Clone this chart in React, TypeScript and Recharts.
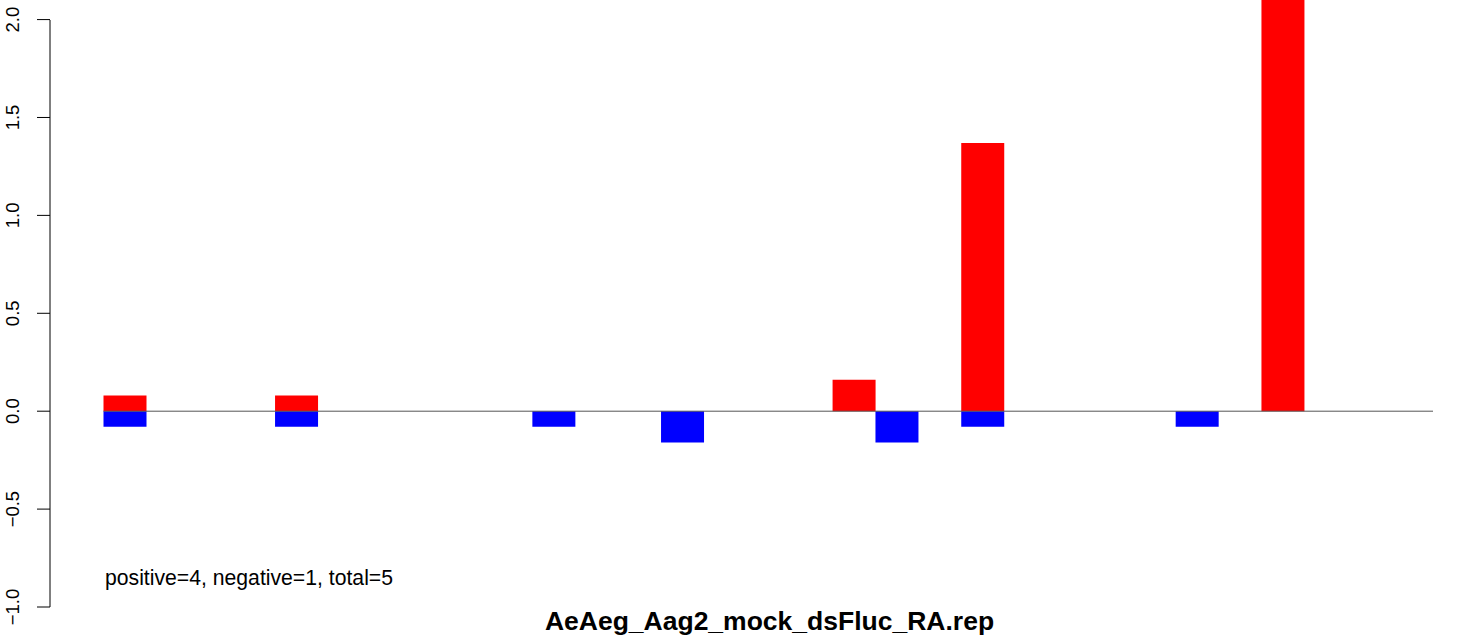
import React from "react";
import { BarChart, Bar, XAxis, YAxis, ReferenceLine } from "recharts";

// 31 positions along the x axis
const categories = [
  "1", "2", "3", "4", "5", "6", "7", "8", "9", "10",
  "11", "12", "13", "14", "15", "16", "17", "18", "19", "20",
  "21", "22", "23", "24", "25", "26", "27", "28", "29", "30",
  "31",
];

const positiveValues = [
  0.08, 0, 0, 0, 0.08, 0, 0, 0, 0, 0,
  0, 0, 0, 0, 0, 0, 0, 0.16, 0, 0,
  1.37, 0, 0, 0, 0, 0, 0, 2.6, 0, 0,
  0,
];

const negativeValues = [
  -0.08, 0, 0, 0, -0.08, 0, 0, 0, 0, 0,
  -0.08, 0, 0, -0.16, 0, 0, 0, 0, -0.16, 0,
  -0.08, 0, 0, 0, 0, -0.08, 0, 0, 0, 0,
  0,
];

const yTicks = [-1, -0.5, 0, 0.5, 1, 1.5, 2];

const chartTitle = "AeAeg_Aag2_mock_dsFluc_RA.rep";
const summaryText = "positive=4, negative=1, total=5";

const data = categories.map((c, i) => ({
  pos: c,
  positive: positiveValues[i],
  negative: negativeValues[i],
}));

const FONT = "'Liberation Sans', Arial, Helvetica, sans-serif";

function fmt(v: number) {
  const s = Math.abs(v).toFixed(1);
  return v < 0 ? "\u2212" + s : s;
}

function RotatedTick(props: any) {
  const { y, payload } = props;
  return (
    <text
      x={19}
      y={y}
      transform={`rotate(-90, 19, ${y})`}
      textAnchor="middle"
      fontSize={18.5}
      fontFamily={FONT}
      fill="#000"
    >
      {fmt(payload.value)}
    </text>
  );
}

export default function App() {
  return (
    <div style={{ position: "absolute", left: 0, top: 0, width: 1470, height: 639, background: "#fff" }}>
      <BarChart
        width={1470}
        height={639}
        data={data}
        stackOffset="sign"
        barCategoryGap={0}
        margin={{ top: 0, right: 37, bottom: 32, left: 0 }}
      >
        <XAxis dataKey="pos" hide />
        {/* inner spacer axis: gap between the y axis and the first bar */}
        <YAxis
          yAxisId="inner"
          type="number"
          domain={[-1, 2.1]}
          allowDataOverflow
          width={53.5}
          tick={false}
          axisLine={false}
          tickLine={false}
        />
        <YAxis
          yAxisId="outer"
          type="number"
          domain={[-1, 2.1]}
          allowDataOverflow
          width={50}
          ticks={yTicks}
          interval={0}
          tick={<RotatedTick />}
          tickSize={13}
          tickLine={{ stroke: "#000", strokeWidth: 1 }}
          axisLine={{ stroke: "#000", strokeWidth: 1, strokeDasharray: "0 20 587 100" }}
        />
        <Bar yAxisId="inner" dataKey="positive" stackId="a" fill="#ff0000" isAnimationActive={false} />
        <Bar yAxisId="inner" dataKey="negative" stackId="a" fill="#0000ff" isAnimationActive={false} />
        <ReferenceLine yAxisId="inner" y={0} stroke="#555" strokeWidth={1} />
      </BarChart>
      <svg
        width={1470}
        height={639}
        style={{ position: "absolute", left: 0, top: 0, pointerEvents: "none" }}
      >
        <text x={105} y={585} fontSize={21.2} fontFamily={FONT} fill="#000">
          {summaryText}
        </text>
        <text x={769.5} y={630} fontSize={26.5} fontWeight="bold" fontFamily={FONT} textAnchor="middle" fill="#000">
          {chartTitle}
        </text>
      </svg>
    </div>
  );
}
